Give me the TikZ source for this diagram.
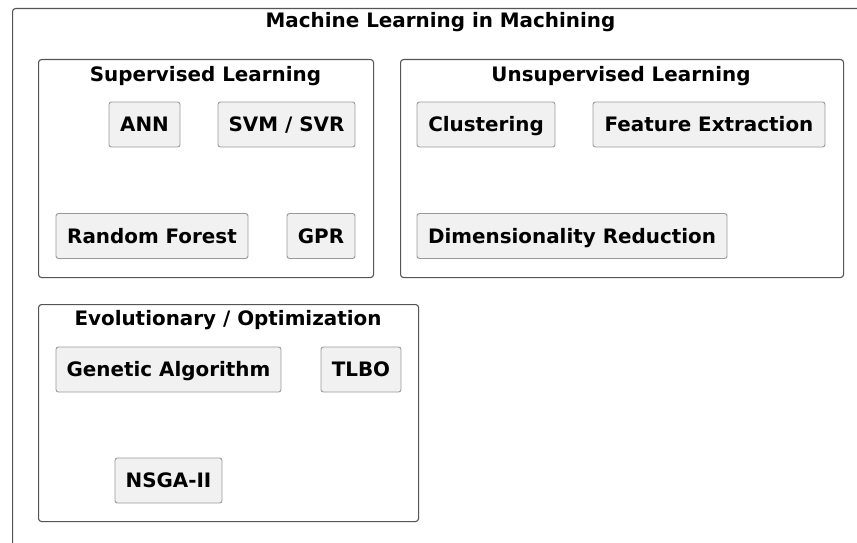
\documentclass[tikz,border=0pt]{standalone}
\usepackage{fontspec}
\setmainfont{DejaVu Sans}
\usepackage{tikz}

\definecolor{algofill}{HTML}{F1F1F1}
\definecolor{algoline}{HTML}{9A9A9A}
\definecolor{groupline}{HTML}{555555}

\tikzset{
  algo/.style={draw=algoline, fill=algofill, rounded corners=2.5pt, line width=0.9pt,
    minimum height=45pt, inner sep=0pt, text height=14.6pt, text depth=0pt,
    font=\bfseries\fontsize{19.9}{23}\selectfont},
  group/.style={draw=groupline, rounded corners=3pt, line width=1.1pt,
    anchor=north west, inner sep=0pt},
  grouptitle/.style={anchor=base, inner sep=0pt,
    font=\bfseries\fontsize{19.9}{23}\selectfont}
}

\begin{document}
\begin{tikzpicture}[x=1pt,y=-1pt]
\useasboundingbox (0,0) rectangle (857,543);
\clip (0,0) rectangle (857,543);
\fill[white] (0,0) rectangle (857,543);

% outer frame, runs off the page on the right and bottom
\node[group, minimum width=900pt, minimum height=600pt] (ml) at (12,8) {};
\node[grouptitle] (mltitle) at (440.5,28) {Machine Learning in Machining};

% supervised
\node[group, minimum width=335pt, minimum height=218pt] (sup) at (38,59) {};
\node[grouptitle] (suptitle) at (205.5,81.5) {Supervised Learning};
\node[algo, minimum width=71pt] (ann) at (144.5,124.5) {ANN};
\node[algo, minimum width=137pt] (svm) at (286.5,124.5) {SVM / SVR};
\node[algo, minimum width=192pt] (rf) at (152,236) {Random Forest};
\node[algo, minimum width=68pt] (gpr) at (321,236) {GPR};

% unsupervised
\node[group, minimum width=443pt, minimum height=218pt] (unsup) at (400,59) {};
\node[grouptitle] (unsuptitle) at (621,81.5) {Unsupervised Learning};
\node[algo, minimum width=138pt] (clust) at (486,124.5) {Clustering};
\node[algo, minimum width=232pt] (feat) at (709,124.5) {Feature Extraction};
\node[algo, minimum width=310pt] (dimred) at (572,236) {Dimensionality Reduction};

% evolutionary
\node[group, minimum width=380pt, minimum height=217pt] (evo) at (38,304) {};
\node[grouptitle] (evotitle) at (228,325.5) {Evolutionary / Optimization};
\node[algo, minimum width=225pt] (ga) at (168.5,369.5) {Genetic Algorithm};
\node[algo, minimum width=80pt] (tlbo) at (361,369.5) {TLBO};
\node[algo, minimum width=107pt] (nsga) at (168.5,480.5) {NSGA-II};
\end{tikzpicture}
\end{document}
